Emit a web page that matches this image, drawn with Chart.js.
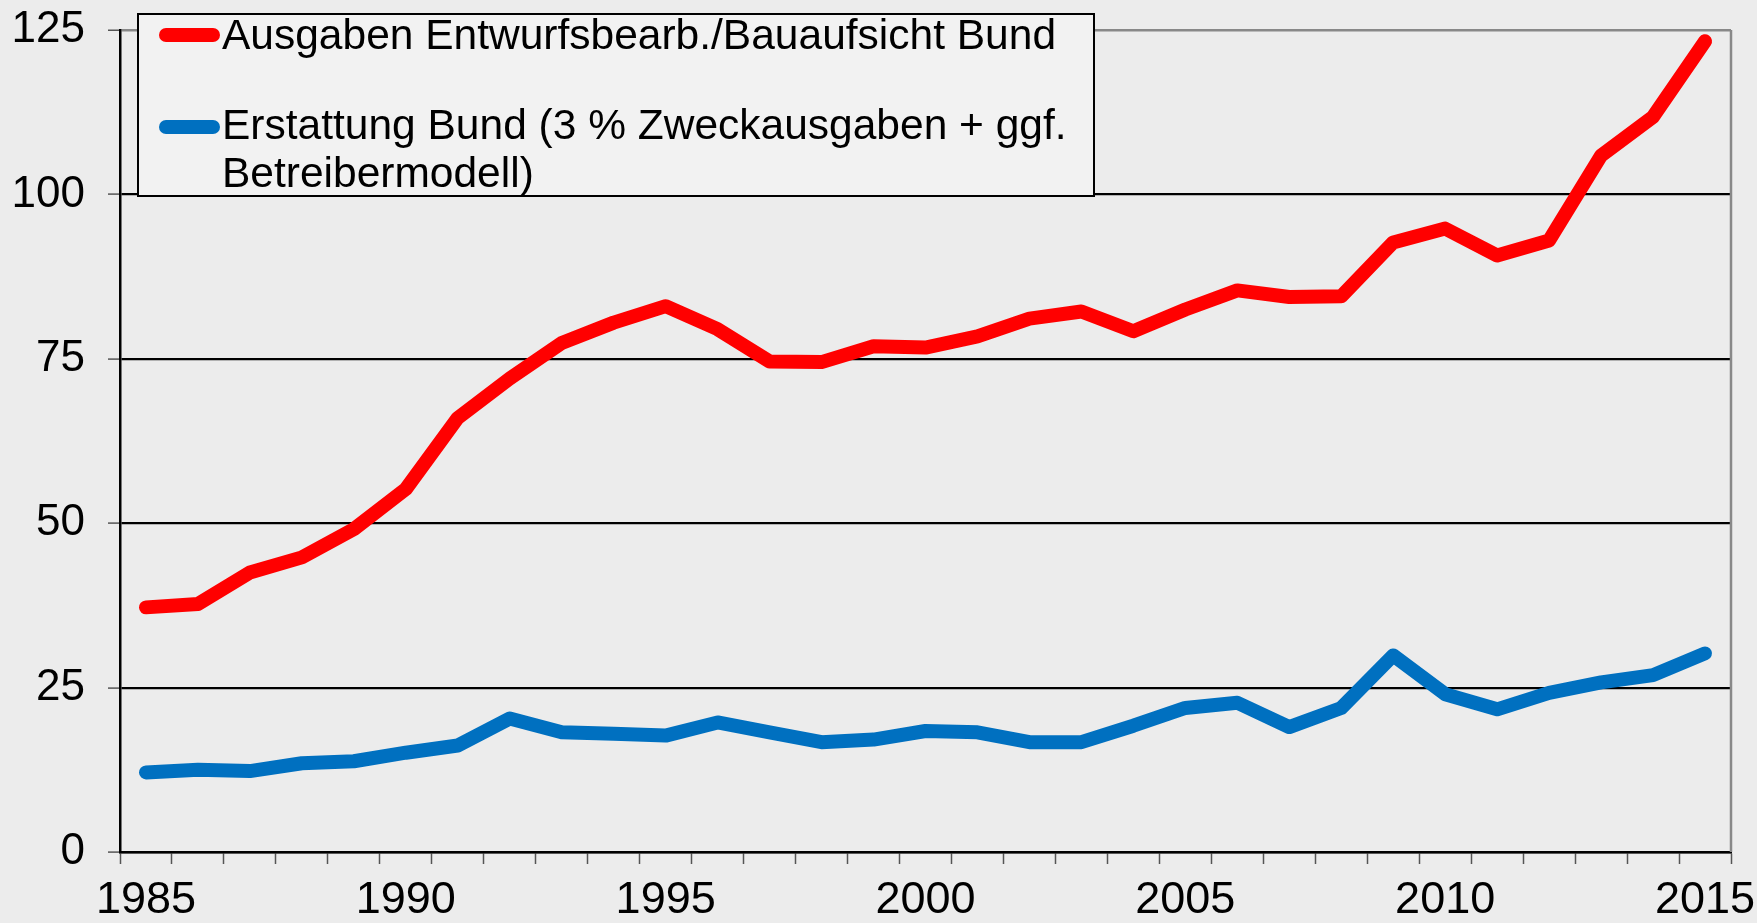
<!DOCTYPE html>
<html>
<head>
<meta charset="utf-8">
<script src="https://cdn.jsdelivr.net/npm/chart.js@4.4.1/dist/chart.umd.min.js"></script>
<style>
  html, body { margin: 0; padding: 0; background: #ececec; }
  #wrap { position: relative; width: 1757px; height: 923px; }
  #legend {
    position: absolute; left: 137px; top: 13px; width: 954px; height: 180px;
    border: 2px solid #000; background: #f2f2f2;
    font-family: "Liberation Sans", Arial, sans-serif; font-size: 42.5px; color: #000;
  }
  #legend .swatch { position: absolute; left: 20px; width: 61px; height: 14px; border-radius: 7px; }
  #legend .text { position: absolute; left: 83px; width: 860px; line-height: 48px; }
</style>
</head>
<body>
<div id="wrap">
  <canvas id="chart" width="1757" height="923"></canvas>
  <div id="legend"></div>
</div>
<script>
// years on the category axis
const years = [];
for (let y = 1985; y <= 2015; y++) years.push(String(y));

const seriesNames = [
  'Ausgaben Entwurfsbearb./Bauaufsicht Bund',
  'Erstattung Bund (3 % Zweckausgaben + ggf. Betreibermodell)'
];
const seriesColors = ['#ff0000', '#0070c0'];

// values
const ausgaben = [37.2, 37.7, 42.5, 44.8, 49.1, 55.2, 66.0, 72.0, 77.4, 80.5,
  83.0, 79.5, 74.6, 74.5, 76.9, 76.7, 78.4, 81.1, 82.2, 79.2,
  82.5, 85.4, 84.4, 84.5, 92.7, 94.8, 90.7, 93.0, 105.9, 111.8, 123.3];
const erstattung = [12.1, 12.5, 12.3, 13.5, 13.8, 15.1, 16.2, 20.3, 18.2, 18.0,
  17.7, 19.7, 18.2, 16.7, 17.1, 18.4, 18.2, 16.7, 16.7, 19.2,
  21.9, 22.7, 19.0, 21.9, 29.9, 24.0, 21.7, 24.2, 25.8, 26.9, 30.2];

const yTicks = [0, 25, 50, 75, 100, 125];
const labelEvery = 5;

const family = '"Liberation Sans", Arial, sans-serif';

// gray frame on the right edge of the plot
const rightBorder = {
  id: 'rightBorder',
  afterDraw(chart) {
    const { ctx, chartArea } = chart;
    ctx.save();
    ctx.strokeStyle = '#888';
    ctx.lineWidth = 2.5;
    ctx.beginPath();
    ctx.moveTo(chartArea.right, chartArea.top);
    ctx.lineTo(chartArea.right, chartArea.bottom);
    ctx.stroke();
    ctx.restore();
  }
};

const lineStyle = {
  borderWidth: 14,
  pointRadius: 0,
  tension: 0,
  borderCapStyle: 'round',
  borderJoinStyle: 'round',
  fill: false
};

new Chart(document.getElementById('chart'), {
  type: 'line',
  data: {
    labels: years,
    datasets: [
      Object.assign({ label: seriesNames[0], data: ausgaben, borderColor: seriesColors[0] }, lineStyle),
      Object.assign({ label: seriesNames[1], data: erstattung, borderColor: seriesColors[1] }, lineStyle)
    ]
  },
  options: {
    responsive: false,
    animation: false,
    devicePixelRatio: 1,
    layout: { padding: { top: 30, right: 26, left: 0, bottom: 0 } },
    plugins: { legend: { display: false }, tooltip: { enabled: false } },
    scales: {
      x: {
        offset: true,
        grid: { offset: true, drawOnChartArea: false, tickLength: 12, tickColor: '#555', tickWidth: 1.5 },
        border: { color: '#000', width: 2.5 },
        ticks: {
          autoSkip: false, maxRotation: 0, padding: 10, color: '#000', font: { family: family, size: 45 },
          callback: function (v, i) { return Number(years[i]) % labelEvery === 0 ? years[i] : ''; }
        },
        afterFit: (s) => { s.height = 71; s.paddingLeft = 0; s.paddingRight = 0; }
      },
      y: {
        min: yTicks[0],
        max: yTicks[yTicks.length - 1],
        afterBuildTicks: (s) => { s.ticks = yTicks.map(v => ({ value: v })); },
        grid: {
          color: (c) => c.tick && c.tick.value === 125 ? '#888' : '#000',
          lineWidth: (c) => c.tick && c.tick.value === 125 ? 2.5 : 2.2,
          tickLength: 12, tickColor: '#555', tickWidth: 1.5
        },
        border: { color: '#000', width: 2.5 },
        ticks: { padding: 23, color: '#000', font: { family: family, size: 44 } },
        afterFit: (s) => { s.width = 120; s.paddingTop = 0; s.paddingBottom = 0; }
      }
    }
  },
  plugins: [rightBorder]
});

// legend box drawn over the plot
const legend = document.getElementById('legend');
const rows = [{ swatchTop: 13, textTop: -4 }, { swatchTop: 105, textTop: 86 }];
seriesNames.forEach((name, i) => {
  const sw = document.createElement('div');
  sw.className = 'swatch';
  sw.style.top = rows[i].swatchTop + 'px';
  sw.style.background = seriesColors[i];
  legend.appendChild(sw);
  const tx = document.createElement('div');
  tx.className = 'text';
  tx.style.top = rows[i].textTop + 'px';
  tx.textContent = name;
  legend.appendChild(tx);
});
</script>
</body>
</html>
